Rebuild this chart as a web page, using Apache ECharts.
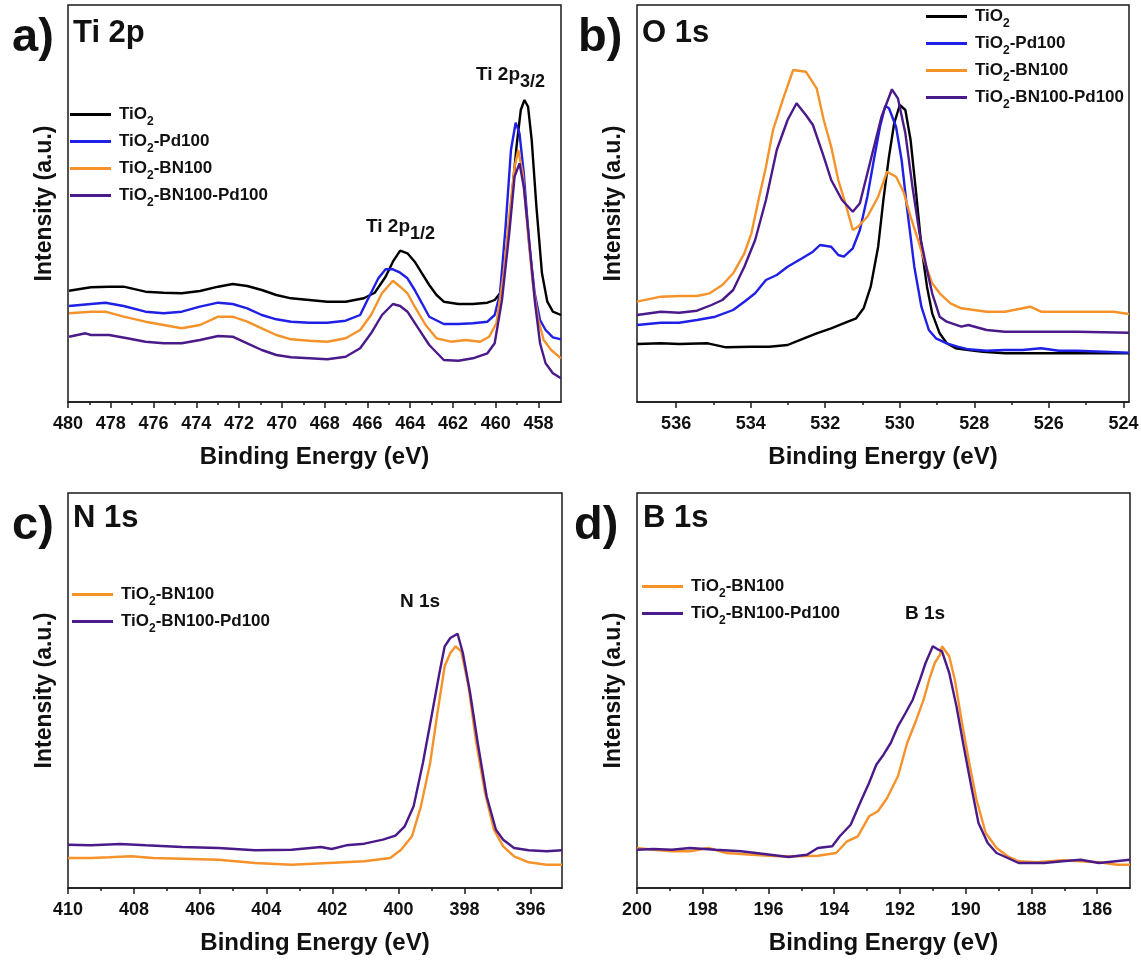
<!DOCTYPE html>
<html><head><meta charset="utf-8">
<script src="https://cdn.jsdelivr.net/npm/echarts@6/dist/echarts.min.js"></script>
<style>html,body{margin:0;padding:0;background:#fff}#c{width:1141px;height:964px}</style>
</head><body><div id="c"></div>
<script>
const FONT = '"Liberation Sans", Arial, Helvetica, sans-serif';
const names = ['TiO2', 'TiO2-Pd100', 'TiO2-BN100', 'TiO2-BN100-Pd100'];
const colors = ['#000000', '#1f1fe6', '#f5922a', '#4b1a8a'];

// ---- panel a: Ti 2p ----
const tiRange = [456.95, 480];
const tiMajor = [480, 478, 476, 474, 472, 470, 468, 466, 464, 462, 460, 458];
const tiMinor = [479, 477, 475, 473, 471, 469, 467, 465, 463, 461, 459];
const ti_TiO2 = [[479.95,111.3],[478.93,114.7],[478.08,115.3],[477.40,115.3],[476.38,110.3],[475.53,109.3],[474.68,108.7],[473.83,111],[472.98,115.3],[472.30,118],[471.62,116],[470.94,112],[470.26,107],[469.57,103.7],[468.72,102],[467.87,100.3],[467.02,100.3],[466.17,103.7],[465.66,109.3],[465.15,125.3],[464.81,140.3],[464.47,151.3],[464.13,148.7],[463.79,140.3],[463.45,128.7],[463.11,117],[462.77,107],[462.43,100.3],[461.75,98],[461.07,98],[460.39,99.3],[460.05,102],[459.80,108.7],[459.54,142],[459.29,195.3],[459.03,255.3],[458.83,292],[458.66,302],[458.49,295.3],[458.32,262],[458.10,195.3],[457.84,128.7],[457.59,100.3],[457.33,90.3],[456.95,87]];
const ti_Pd = [[479.95,96],[478.93,98],[478.25,99.3],[477.40,96],[476.38,90.3],[475.53,88.7],[474.68,90.3],[473.83,95.3],[472.98,99.3],[472.30,98],[471.62,93.7],[470.94,87],[470.26,82.7],[469.57,80.3],[468.72,79.3],[467.87,79.3],[467.02,81.3],[466.34,87],[466.00,102],[465.49,123.7],[465.15,132.7],[464.81,132.7],[464.47,129.3],[464.13,123.7],[463.79,112],[463.45,98.7],[463.11,85.3],[462.43,78],[461.75,78],[461.07,78.7],[460.39,80.3],[460.05,87],[459.80,108.7],[459.54,175.3],[459.29,252],[459.07,279.3],[458.89,268.7],[458.69,228.7],[458.44,158.7],[458.18,108.7],[457.93,82],[457.67,72],[457.33,64.7],[456.95,62.7]];
const ti_BN = [[479.95,88.7],[478.93,90.3],[478.25,90.3],[477.40,85.3],[476.38,80.3],[475.53,77],[474.68,73.7],[473.83,77],[472.98,85.3],[472.30,85.3],[471.62,80.3],[470.94,73.7],[470.26,67],[469.57,62.7],[468.72,61.3],[467.87,60.3],[467.02,63.7],[466.34,72],[465.83,87],[465.32,108.7],[464.81,121.3],[464.47,115.3],[464.13,108.7],[463.79,95.3],[463.28,77],[462.77,63.7],[462.09,60.3],[461.41,62],[460.73,60.3],[460.31,65.3],[459.97,78.7],[459.63,128.7],[459.37,185.3],[459.12,235.3],[458.95,252],[458.74,228.7],[458.52,175.3],[458.27,118.7],[458.01,82],[457.76,62],[457.41,52],[456.95,43.7]];
const ti_BNPd = [[479.95,65.3],[479.18,68.7],[478.93,67],[478.08,67],[477.23,63.7],[476.38,60.3],[475.53,58.7],[474.68,58.7],[473.83,62],[472.98,66],[472.30,65.3],[471.62,58.7],[470.94,52],[470.26,47],[469.57,44.7],[468.72,43.7],[467.87,42.7],[467.02,45.3],[466.34,53.7],[465.83,68.7],[465.32,87],[464.81,98],[464.47,96],[464.13,90.3],[463.62,73.7],[463.11,57],[462.43,42],[461.75,41.3],[461.07,43.7],[460.39,48.7],[460.05,58.7],[459.71,102],[459.37,168.7],[459.12,225.3],[458.89,238.7],[458.69,215.3],[458.44,162],[458.18,102],[457.93,58.7],[457.67,38.7],[457.33,28.7],[456.95,23.7]];

// ---- panel b: O 1s ----
const oRange = [523.85, 537.05];
const oMajor = [536, 534, 532, 530, 528, 526, 524];
const oMinor = [535, 533, 531, 529, 527, 525];
const o_TiO2 = [[537.05,58],[536.41,58.7],[535.92,58],[535.15,58.7],[534.66,54.7],[533.98,55.3],[533.50,55.3],[533.01,57],[532.72,61.3],[532.23,68.7],[531.84,73.7],[531.46,79.3],[531.17,83.7],[530.97,93.7],[530.78,115.3],[530.58,155.3],[530.44,202],[530.29,245.3],[530.15,278.7],[530.00,297],[529.85,292],[529.71,262],[529.56,208.7],[529.42,155.3],[529.27,115.3],[529.13,88.7],[528.93,68.7],[528.74,58.7],[528.50,53.7],[528.16,52],[527.77,50.3],[527.18,48.7],[526.21,48.7],[525.24,48.7],[523.85,48.7]];
const o_Pd = [[537.05,77],[536.41,79.3],[535.92,79.3],[535.44,82],[534.95,85.3],[534.47,92],[534.17,100.3],[533.88,108.7],[533.59,122],[533.30,127],[533.01,135.3],[532.62,143.7],[532.33,150.3],[532.14,157],[531.84,155.3],[531.65,147],[531.50,145.3],[531.26,153.7],[531.07,172],[530.87,205.3],[530.68,245.3],[530.53,275.3],[530.39,296],[530.29,293.7],[530.10,275.3],[529.95,242],[529.81,195.3],[529.61,135.3],[529.42,95.3],[529.22,72],[529.03,63.7],[528.74,58.7],[528.45,55.3],[528.16,52.7],[527.67,51.3],[527.18,52],[526.70,52],[526.21,53.7],[525.73,51.3],[525.24,51.3],[523.85,49.3]];
const o_BN = [[537.05,100.3],[536.41,105.3],[535.92,106],[535.44,106],[535.10,108.7],[534.76,117],[534.47,128.7],[534.17,148.7],[533.98,168.7],[533.79,202],[533.59,235.3],[533.40,272],[533.11,305.3],[532.86,332],[532.52,330.3],[532.23,313.7],[532.04,282],[531.84,255.3],[531.65,222],[531.46,198.7],[531.26,172],[531.12,175.3],[530.87,185.3],[530.58,205.3],[530.34,230.3],[530.10,225.3],[529.90,210.3],[529.71,185.3],[529.51,162],[529.32,138.7],[529.13,118.7],[528.93,108.7],[528.64,98.7],[528.35,93.7],[527.67,90.3],[527.18,90.3],[526.50,95.3],[526.21,90.3],[525.24,90.3],[524.27,90.3],[523.85,88]];
const o_BNPd = [[537.05,87],[536.41,90.3],[535.92,89.3],[535.44,91.3],[535.05,97],[534.76,102],[534.47,112],[534.17,135.3],[533.88,162],[533.59,202],[533.30,252],[533.01,282],[532.77,298.7],[532.52,287],[532.33,277],[532.04,245.3],[531.84,222],[531.55,202],[531.26,190.3],[531.07,198.7],[530.78,242],[530.49,285.3],[530.21,312.7],[530.05,303.7],[529.85,268.7],[529.66,215.3],[529.47,168.7],[529.27,132],[529.13,108.7],[528.93,85.3],[528.74,80.3],[528.35,75.3],[528.16,77],[527.67,72],[527.18,70.3],[526.21,70.3],[525.24,70.3],[523.85,69.3]];

// ---- panel c: N 1s ----
const nRange = [395.05, 410];
const nMajor = [410, 408, 406, 404, 402, 400, 398, 396];
const nMinor = [409, 407, 405, 403, 401, 399, 397];
const n_BN = [[410,30],[409.30,30],[408.75,30.7],[408.09,31.7],[407.43,30],[406.55,29.3],[405.44,28.3],[404.34,25],[403.23,23.3],[402.13,25],[401.03,26.7],[400.25,30],[399.92,38.3],[399.59,51.7],[399.32,81.7],[399.04,125],[398.82,175],[398.60,221.7],[398.43,235],[398.27,241.7],[398.10,236.7],[397.88,201.7],[397.66,148.3],[397.38,95],[397.11,58.3],[396.83,41.7],[396.50,31.7],[396.06,25.7],[395.51,23.3],[395.05,23.3]];
const n_BNPd = [[410,43.3],[409.30,42.7],[408.42,44],[407.65,42.7],[406.55,41],[405.44,40],[404.34,37.7],[403.23,38.3],[402.35,41],[402.02,39],[401.58,42.7],[401.03,44.3],[400.47,48.3],[400.09,52.3],[399.81,61.7],[399.54,81.7],[399.26,125],[398.98,175],[398.76,215],[398.60,241.7],[398.43,250],[398.21,254.3],[398.05,235],[397.83,195],[397.60,145],[397.33,91.7],[397.05,58.3],[396.83,48.3],[396.50,40],[396.06,37.7],[395.51,36.7],[395.05,37.7]];

// ---- panel d: B 1s ----
const bRange = [185, 200];
const bMajor = [200, 198, 196, 194, 192, 190, 188, 186];
const bMinor = [199, 197, 195, 193, 191, 189, 187];
const b_BN = [[200.00,40],[199.50,38.3],[198.94,36.7],[198.39,36.7],[197.83,40],[197.28,35],[196.50,33.3],[195.72,31.7],[195.17,31.7],[194.50,32.3],[193.94,35],[193.61,46.7],[193.28,51.7],[192.94,71.7],[192.67,76.7],[192.39,90],[192.06,111.7],[191.78,145],[191.50,168.3],[191.28,188.3],[191.11,208.3],[190.94,225],[190.78,233.3],[190.72,241.7],[190.50,231.7],[190.33,208.3],[190.11,165],[189.89,125],[189.67,88.3],[189.39,55],[189.06,40],[188.72,31.7],[188.39,26.7],[187.83,25.7],[187.06,27.7],[186.50,26.7],[185.94,25.7],[185.39,23.3],[185.00,23.3]];
const b_BNPd = [[200.00,38.3],[199.50,39],[198.94,38.3],[198.39,40],[197.61,38.3],[196.83,36.7],[195.94,33.3],[195.39,31],[194.83,33.3],[194.50,40],[194.06,41.7],[193.83,51.7],[193.50,63.3],[193.17,88.3],[192.94,105],[192.72,123.3],[192.50,133.3],[192.28,145],[192.06,161.7],[191.83,175],[191.61,188.3],[191.39,208.3],[191.22,225],[191.00,241.7],[190.83,238.3],[190.72,236.7],[190.50,215],[190.28,181.7],[190.06,141.7],[189.83,101.7],[189.61,65],[189.33,45],[189.06,35],[188.72,30],[188.39,25],[188.06,25],[187.61,25],[187.06,26.7],[186.50,28.3],[185.94,25],[185.00,28.3]];

const yMax = [397, 397, 395, 395];

const panels = [
  {grid: {left: 68, top: 5, width: 493, height: 397}, range: tiRange, major: tiMajor, minor: tiMinor,
   data: [ti_TiO2, ti_Pd, ti_BN, ti_BNPd], names: names},
  {grid: {left: 637, top: 5, width: 492, height: 397}, range: oRange, major: oMajor, minor: oMinor,
   data: [o_TiO2, o_Pd, o_BN, o_BNPd], names: names},
  {grid: {left: 68, top: 493, width: 494, height: 395}, range: nRange, major: nMajor, minor: nMinor,
   data: [n_BN, n_BNPd], names: [names[2], names[3]]},
  {grid: {left: 637, top: 493, width: 493, height: 395}, range: bRange, major: bMajor, minor: bMinor,
   data: [b_BN, b_BNPd], names: [names[2], names[3]]}
];

const grids = [], xAxes = [], yAxes = [], series = [];
panels.forEach((p, i) => {
  grids.push(Object.assign({show: true, borderColor: '#1a1a1a', borderWidth: 1.5, backgroundColor: 'transparent',
    containLabel: false, outerBoundsMode: 'none'}, p.grid));
  xAxes.push({
    type: 'value', gridIndex: i, min: p.range[0], max: p.range[1], inverse: true, position: 'bottom',
    axisLine: {show: true, lineStyle: {color: '#1a1a1a', width: 1.5}},
    axisTick: {show: true, customValues: p.major, length: 6, lineStyle: {color: '#1a1a1a', width: 1.5}},
    axisLabel: {show: true, customValues: p.major, margin: 13, color: '#111', fontFamily: FONT, fontWeight: 'bold', fontSize: 18},
    splitLine: {show: false},
    name: 'Binding Energy (eV)', nameLocation: 'middle', nameGap: 43,
    nameTextStyle: {color: '#111', fontFamily: FONT, fontWeight: 'bold', fontSize: 24}
  });
  xAxes.push({
    type: 'value', gridIndex: i, min: p.range[0], max: p.range[1], inverse: true, position: 'bottom',
    axisLine: {show: false},
    axisTick: {show: true, customValues: p.minor, length: 3, lineStyle: {color: '#1a1a1a', width: 1.5}},
    axisLabel: {show: false}, splitLine: {show: false}
  });
  yAxes.push({
    type: 'value', gridIndex: i, min: 0, max: yMax[i],
    axisLine: {show: false}, axisTick: {show: false}, axisLabel: {show: false}, splitLine: {show: false},
    name: 'Intensity (a.u.)', nameLocation: 'middle', nameGap: 12,
    nameTextStyle: {color: '#111', fontFamily: FONT, fontWeight: 'bold', fontSize: 23}
  });
  p.data.forEach((d, k) => {
    const nm = p.names[k];
    const c = colors[names.indexOf(nm)];
    series.push({
      type: 'line', name: nm, xAxisIndex: 2 * i, yAxisIndex: i, data: d,
      symbol: 'none', showSymbol: false, smooth: false, clip: true,
      lineStyle: {color: c, width: 2.4}, itemStyle: {color: c}, emphasis: {disabled: true}
    });
  });
});

const rich = {
  n: {fontSize: 17, fontWeight: 'bold', fontFamily: FONT, color: '#111', lineHeight: 20},
  s: {fontSize: 12, fontWeight: 'bold', fontFamily: FONT, color: '#111', lineHeight: 27, verticalAlign: 'bottom'}
};
const fmt = nm => '{n|TiO}{s|2}' + (nm.length > 4 ? '{n|' + nm.slice(4) + '}' : '');
function legend(left, top, data) {
  return {left: left, top: top, orient: 'vertical', data: data, icon: 'rect', itemWidth: 41, itemHeight: 3, itemGap: 5,
    padding: 0, selectedMode: false, formatter: fmt,
    textStyle: {color: '#111', fontFamily: FONT, fontWeight: 'bold', fontSize: 17, padding: [0, 0, 0, 3], rich: rich}};
}

const peakRich = {
  n: {fontSize: 19, fontWeight: 'bold', fontFamily: FONT, fill: '#111', lineHeight: 22},
  s: {fontSize: 18, fontWeight: 'bold', fontFamily: FONT, fill: '#111', lineHeight: 32, verticalAlign: 'bottom'}
};
function txt(x, y, text, size) {
  return {type: 'text', x: x, y: y, silent: true,
    style: {text: text, fill: '#111', font: 'bold ' + size + 'px ' + FONT, verticalAlign: 'middle', align: 'left'}};
}
function rtxt(x, y, text) {
  return {type: 'text', x: x, y: y, silent: true,
    style: {text: text, fill: '#111', verticalAlign: 'middle', align: 'left', rich: peakRich}};
}

const option = {
  animation: false,
  backgroundColor: '#ffffff',
  grid: grids, xAxis: xAxes, yAxis: yAxes, series: series,
  legend: [
    legend(70, 106, names),
    legend(926, 8, names),
    legend(72, 586, [names[2], names[3]]),
    legend(642, 578, [names[2], names[3]])
  ],
  graphic: [
    txt(12, 38, 'a)', 47), txt(73, 33, 'Ti 2p', 31),
    txt(578, 38, 'b)', 47), txt(642, 33, 'O 1s', 31),
    txt(12, 526, 'c)', 47), txt(73, 518, 'N 1s', 31),
    txt(574, 526, 'd)', 47), txt(643, 518, 'B 1s', 31),
    rtxt(476, 75, '{n|Ti 2p}{s|3/2}'),
    rtxt(366, 227, '{n|Ti 2p}{s|1/2}'),
    txt(400, 602, 'N 1s', 19),
    txt(905, 614, 'B 1s', 19)
  ]
};
echarts.init(document.getElementById('c'), null, {renderer: 'canvas'}).setOption(option);
</script></body></html>
